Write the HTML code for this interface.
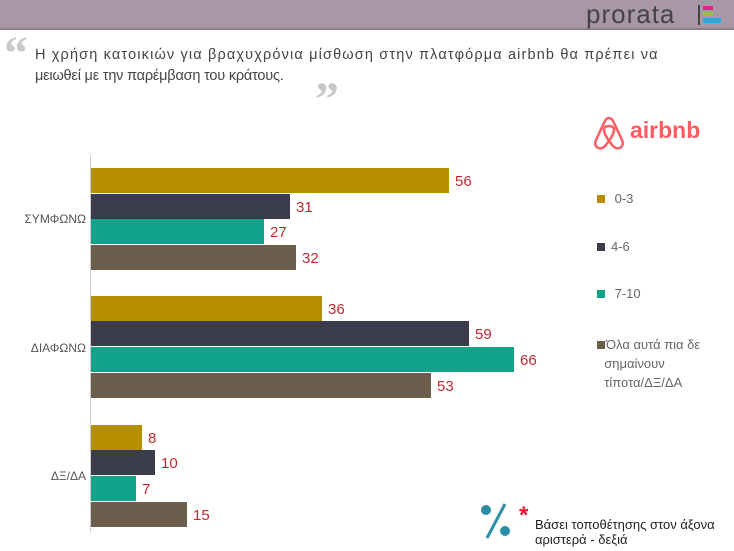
<!DOCTYPE html>
<html><head><meta charset="utf-8"><style>
body{margin:0;width:734px;height:551px;background:#fff;position:relative;overflow:hidden;font-family:"Liberation Sans","DejaVu Sans",sans-serif}
.hdr{position:absolute;left:0;top:0;width:734px;height:28px;background:#a898a6;border-bottom:2px solid #8e7e8c}
.bar{position:absolute;left:91px;height:25px}
.v{position:absolute;font-size:15px;color:#c0282f}
.cat{position:absolute;font-size:12px;color:#555;left:0;width:86px;text-align:right}
.lg{position:absolute;font-size:13px;color:#666;left:597px}
.sq{display:inline-block;width:8px;height:8px;margin-right:6px}
</style></head><body>
<div class="hdr"></div>
<div style="position:absolute;left:586px;top:-1px;font-size:26px;color:#444;letter-spacing:1px">prorata</div>
<div style="position:absolute;left:698px;top:5px;width:2px;height:20px;background:#444"></div>
<div style="position:absolute;left:703px;top:6px;width:10px;height:4px;background:#e0238a"></div>
<div style="position:absolute;left:703px;top:12px;width:10px;height:4px;background:#8cc63f"></div>
<div style="position:absolute;left:703px;top:18px;width:18px;height:5px;background:#29abe2"></div>
<div style="position:absolute;left:4px;top:30px;font-size:48px;line-height:48px;color:#c8c8c8;font-family:'Liberation Serif',serif;font-weight:bold">&ldquo;</div>
<div style="position:absolute;left:35px;top:45px;font-size:14.5px;color:#444;line-height:21px;white-space:nowrap"><span style="letter-spacing:1.15px">Η χρήση κατοικιών για βραχυχρόνια μίσθωση στην πλατφόρμα airbnb θα πρέπει να</span><br><span style="letter-spacing:-0.2px">μειωθεί με την παρέμβαση του κράτους.</span></div>
<div style="position:absolute;left:315px;top:76px;font-size:48px;line-height:48px;color:#c8c8c8;font-family:'Liberation Serif',serif;font-weight:bold">&rdquo;</div>
<div style="position:absolute;left:90px;top:155px;width:1px;height:377px;background:#ccc"></div>
<div class="bar" style="top:168px;width:358px;background:#b58f00"></div><div class="v" style="left:455px;top:173px">56</div>
<div class="bar" style="top:194px;width:199px;background:#3a3c4c"></div><div class="v" style="left:296px;top:199px">31</div>
<div class="bar" style="top:219px;width:173px;background:#12a38a"></div><div class="v" style="left:270px;top:224px">27</div>
<div class="bar" style="top:245px;width:205px;background:#6b5e4c"></div><div class="v" style="left:302px;top:250px">32</div>
<div class="bar" style="top:296px;width:231px;background:#b58f00"></div><div class="v" style="left:328px;top:301px">36</div>
<div class="bar" style="top:321px;width:378px;background:#3a3c4c"></div><div class="v" style="left:475px;top:326px">59</div>
<div class="bar" style="top:347px;width:423px;background:#12a38a"></div><div class="v" style="left:520px;top:352px">66</div>
<div class="bar" style="top:373px;width:340px;background:#6b5e4c"></div><div class="v" style="left:437px;top:378px">53</div>
<div class="bar" style="top:425px;width:51px;background:#b58f00"></div><div class="v" style="left:148px;top:430px">8</div>
<div class="bar" style="top:450px;width:64px;background:#3a3c4c"></div><div class="v" style="left:161px;top:455px">10</div>
<div class="bar" style="top:476px;width:45px;background:#12a38a"></div><div class="v" style="left:142px;top:481px">7</div>
<div class="bar" style="top:502px;width:96px;background:#6b5e4c"></div><div class="v" style="left:193px;top:507px">15</div>
<div class="cat" style="top:212px">ΣΥΜΦΩΝΩ</div>
<div class="cat" style="top:341px">ΔΙΑΦΩΝΩ</div>
<div class="cat" style="top:469px">ΔΞ/ΔΑ</div>
<svg style="position:absolute;left:592px;top:115px" width="34" height="36" viewBox="0 0 34 36"><path d="M17 3 C14 3 13 6 11 10 L4 25 C1 32 8 36 13 31 L17 26 L21 31 C26 36 33 32 30 25 L23 10 C21 6 20 3 17 3 Z M17 26 C13 20 12 17 12 15 C12 12 14 11 17 11 C20 11 22 12 22 15 C22 17 21 20 17 26 Z" fill="none" stroke="#fd5c63" stroke-width="2.5"/></svg>
<div style="position:absolute;left:630px;top:117px;font-size:23px;color:#fd5c63;font-weight:bold">airbnb</div>
<div class="lg" style="top:191px"><span class="sq" style="background:#b58f00"></span> 0-3</div>
<div class="lg" style="top:239px"><span class="sq" style="background:#3a3c4c"></span>4-6</div>
<div class="lg" style="top:286px"><span class="sq" style="background:#12a38a"></span> 7-10</div>
<div class="lg" style="top:335px;line-height:19px;width:135px"><span class="sq" style="background:#6b5e4c;margin-right:1px"></span>Όλα αυτά πια δε<br>&nbsp;&nbsp;σημαίνουν<br>&nbsp;&nbsp;τίποτα/ΔΞ/ΔΑ</div>
<svg style="position:absolute;left:478px;top:500px" width="36" height="40"><circle cx="8" cy="10" r="5" fill="#2a8fa6"/><circle cx="27" cy="31" r="5" fill="#2a8fa6"/><line x1="27" y1="4" x2="9" y2="38" stroke="#2a8fa6" stroke-width="3"/></svg>
<div style="position:absolute;left:519px;top:502px;font-size:24px;color:#e8192c;font-weight:bold">*</div>
<div style="position:absolute;left:535px;top:517px;font-size:13px;color:#222;line-height:15px">Βάσει τοποθέτησης στον άξονα<br>αριστερά - δεξιά</div>
</body></html>
